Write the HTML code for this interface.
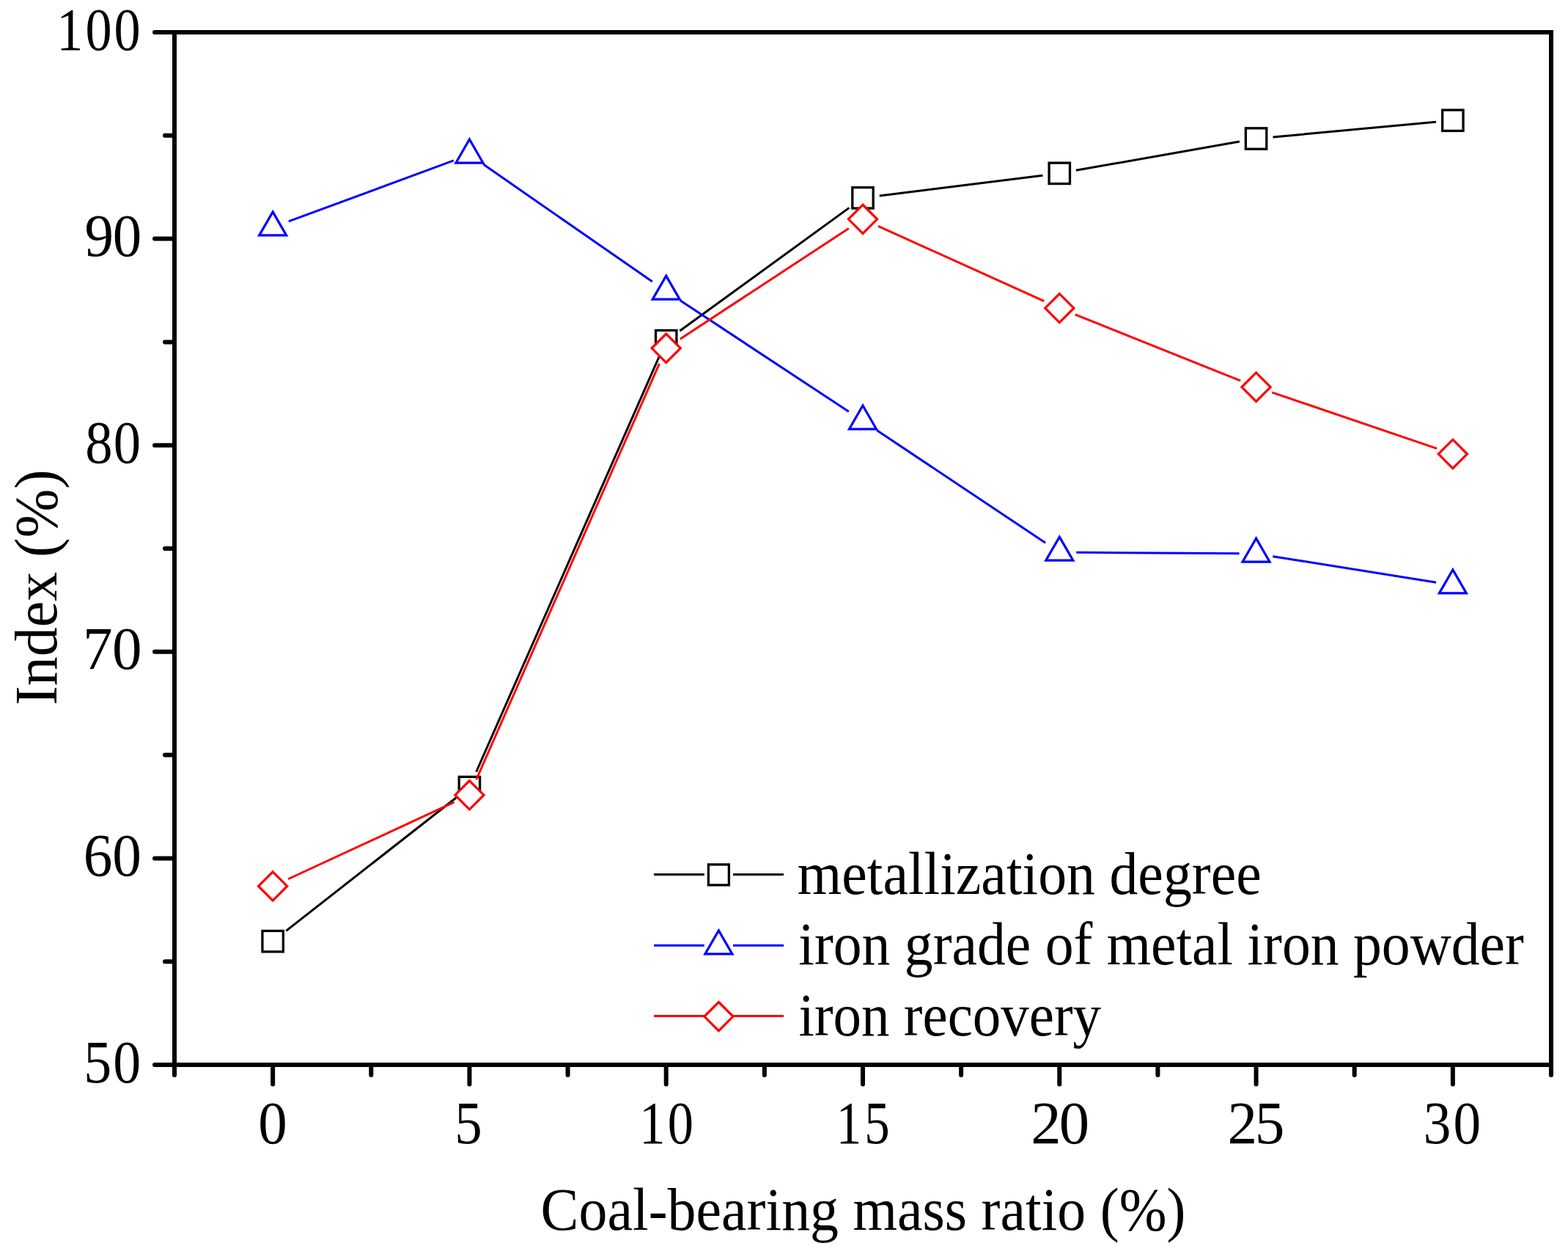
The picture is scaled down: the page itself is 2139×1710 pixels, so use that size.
<!DOCTYPE html>
<html><head><meta charset="utf-8"><title>Index vs coal-bearing mass ratio</title>
<style>html,body{margin:0;padding:0;background:#fff;}svg{display:block;}</style>
</head><body>
<svg width="2139" height="1710" viewBox="0 0 2139 1710">
<rect width="2139" height="1710" fill="#fff"/>
<path d="M390.25 1269.42L622.32 1087.71M649.70 1052.48L899.44 485.76M927.32 451.19L1158.39 283.36M1199.82 266.99L1422.46 239.18M1467.94 232.34L1690.92 193.02M1736.47 186.91L1958.95 166.36" stroke="#000" stroke-width="3.0" fill="none"/>
<rect x="357.94" y="1269.40" width="28.40" height="28.40" fill="#fff" stroke="#000" stroke-width="3.3"/>
<rect x="626.23" y="1059.33" width="28.40" height="28.40" fill="#fff" stroke="#000" stroke-width="3.3"/>
<rect x="894.51" y="450.51" width="28.40" height="28.40" fill="#fff" stroke="#000" stroke-width="3.3"/>
<rect x="1162.80" y="255.64" width="28.40" height="28.40" fill="#fff" stroke="#000" stroke-width="3.3"/>
<rect x="1431.09" y="222.13" width="28.40" height="28.40" fill="#fff" stroke="#000" stroke-width="3.3"/>
<rect x="1699.37" y="174.82" width="28.40" height="28.40" fill="#fff" stroke="#000" stroke-width="3.3"/>
<rect x="1967.66" y="150.04" width="28.40" height="28.40" fill="#fff" stroke="#000" stroke-width="3.3"/>
<path d="M393.72 301.88L618.85 218.94M659.33 224.10L889.82 384.02M927.92 409.78L1157.80 561.31M1196.13 586.74L1426.16 740.30M1468.29 753.24L1690.57 754.87M1736.28 758.66L1959.14 794.22" stroke="#00f" stroke-width="3.0" fill="none"/>
<path d="M372.14 288.87L390.64 320.91L353.64 320.91Z" fill="#fff" stroke="#00f" stroke-width="3.2" stroke-miterlimit="10"/>
<path d="M640.43 190.03L658.93 222.07L621.93 222.07Z" fill="#fff" stroke="#00f" stroke-width="3.2" stroke-miterlimit="10"/>
<path d="M908.71 376.16L927.21 408.21L890.21 408.21Z" fill="#fff" stroke="#00f" stroke-width="3.2" stroke-miterlimit="10"/>
<path d="M1177.00 553.01L1195.50 585.05L1158.50 585.05Z" fill="#fff" stroke="#00f" stroke-width="3.2" stroke-miterlimit="10"/>
<path d="M1445.29 732.11L1463.79 764.15L1426.79 764.15Z" fill="#fff" stroke="#00f" stroke-width="3.2" stroke-miterlimit="10"/>
<path d="M1713.57 734.08L1732.07 766.12L1695.07 766.12Z" fill="#fff" stroke="#00f" stroke-width="3.2" stroke-miterlimit="10"/>
<path d="M1981.86 776.88L2000.36 808.92L1963.36 808.92Z" fill="#fff" stroke="#00f" stroke-width="3.2" stroke-miterlimit="10"/>
<path d="M393.02 1198.75L619.56 1093.89M649.70 1063.18L899.45 495.90M927.95 462.23L1157.77 311.46M1197.96 308.33L1424.33 410.74M1466.63 428.78L1692.22 519.23M1735.35 535.19L1960.08 611.62" stroke="#f00" stroke-width="3.0" fill="none"/>
<path d="M372.14 1188.82L391.74 1208.42L372.14 1228.02L352.54 1208.42Z" fill="#fff" stroke="#f00" stroke-width="3.2" stroke-miterlimit="10"/>
<path d="M640.43 1064.63L660.03 1084.23L640.43 1103.83L620.83 1084.23Z" fill="#fff" stroke="#f00" stroke-width="3.2" stroke-miterlimit="10"/>
<path d="M908.71 455.25L928.31 474.85L908.71 494.45L889.11 474.85Z" fill="#fff" stroke="#f00" stroke-width="3.2" stroke-miterlimit="10"/>
<path d="M1177.00 279.25L1196.60 298.85L1177.00 318.45L1157.40 298.85Z" fill="#fff" stroke="#f00" stroke-width="3.2" stroke-miterlimit="10"/>
<path d="M1445.29 400.62L1464.89 420.22L1445.29 439.82L1425.69 420.22Z" fill="#fff" stroke="#f00" stroke-width="3.2" stroke-miterlimit="10"/>
<path d="M1713.57 508.19L1733.17 527.79L1713.57 547.39L1693.97 527.79Z" fill="#fff" stroke="#f00" stroke-width="3.2" stroke-miterlimit="10"/>
<path d="M1981.86 599.43L2001.46 619.03L1981.86 638.63L1962.26 619.03Z" fill="#fff" stroke="#f00" stroke-width="3.2" stroke-miterlimit="10"/>
<g stroke="#000" stroke-width="6.0" fill="none" stroke-linecap="butt">
<rect x="238.0" y="44.0" width="1878.0" height="1408.0"/>
<path d="M211.0 1452.00H238.0M211.0 1170.40H238.0M211.0 888.80H238.0M211.0 607.20H238.0M211.0 325.60H238.0M211.0 44.00H238.0M225.0 1311.20H238.0M225.0 1029.60H238.0M225.0 748.00H238.0M225.0 466.40H238.0M225.0 184.80H238.0M372.14 1452.0V1478.5M640.43 1452.0V1478.5M908.71 1452.0V1478.5M1177.00 1452.0V1478.5M1445.29 1452.0V1478.5M1713.57 1452.0V1478.5M1981.86 1452.0V1478.5M238.00 1452.0V1466.0M506.29 1452.0V1466.0M774.57 1452.0V1466.0M1042.86 1452.0V1466.0M1311.14 1452.0V1466.0M1579.43 1452.0V1466.0M1847.71 1452.0V1466.0M2116.00 1452.0V1466.0" stroke-linecap="round"/>
</g>
<path d="M892.0 1192.5H960.8M1000.0 1192.5H1069.0" stroke="#000" stroke-width="3.0"/>
<rect x="966.40" y="1178.90" width="28.00" height="28.00" fill="#fff" stroke="#000" stroke-width="3.3"/>
<path d="M892.0 1289.3H960.8M1000.0 1289.3H1069.0" stroke="#00f" stroke-width="3.0"/>
<path d="M980.40 1268.84L998.90 1300.88L961.90 1300.88Z" fill="#fff" stroke="#00f" stroke-width="3.2" stroke-miterlimit="10"/>
<path d="M892.0 1385.4H1069.0" stroke="#f00" stroke-width="3.0"/>
<path d="M980.40 1366.50L1000.00 1386.10L980.40 1405.70L960.80 1386.10Z" fill="#fff" stroke="#f00" stroke-width="3.2" stroke-miterlimit="10"/>
<g font-family="'Liberation Serif', 'Times New Roman', serif" font-size="81.5" fill="#000">
<text transform="translate(0,67.60) scale(0.8863,1)"><tspan x="87.20">1</tspan><tspan x="131.55">0</tspan><tspan x="175.44">0</tspan></text>
<text transform="translate(0,349.20) scale(0.9694,1)"><tspan x="119.15">9</tspan><tspan x="158.51">0</tspan></text>
<text transform="translate(0,630.80) scale(0.9163,1)"><tspan x="126.91">8</tspan><tspan x="168.87">0</tspan></text>
<text transform="translate(0,912.40) scale(0.9953,1)"><tspan x="113.66">7</tspan><tspan x="153.85">0</tspan></text>
<text transform="translate(0,1194.00) scale(0.9732,1)"><tspan x="116.99">6</tspan><tspan x="157.55">0</tspan></text>
<text transform="translate(0,1475.60) scale(0.9310,1)"><tspan x="122.73">5</tspan><tspan x="165.61">0</tspan></text>
<text transform="translate(0,1559.20) scale(0.9698,1)"><tspan x="363.35">0</tspan></text>
<text transform="translate(0,1559.20) scale(0.9199,1)"><tspan x="674.28">5</tspan></text>
<text transform="translate(0,1559.20) scale(0.8645,1)"><tspan x="1009.09">1</tspan><tspan x="1053.48">0</tspan></text>
<text transform="translate(0,1559.20) scale(0.8451,1)"><tspan x="1349.94">1</tspan><tspan x="1395.32">5</tspan></text>
<text transform="translate(0,1559.20) scale(1.0163,1)"><tspan x="1383.67">2</tspan><tspan x="1421.68">0</tspan></text>
<text transform="translate(0,1559.20) scale(0.9971,1)"><tspan x="1679.47">2</tspan><tspan x="1716.79">5</tspan></text>
<text transform="translate(0,1559.20) scale(0.9247,1)"><tspan x="2099.84">3</tspan><tspan x="2143.94">0</tspan></text>
<text transform="translate(737.61,1677.00) scale(0.9553,1)">Coal-bearing mass ratio (%)</text>
<text transform="translate(76.90,961.79) rotate(-90) scale(0.9802,1)">Index (%)</text>
<text transform="translate(1087.67,1219.00) scale(0.9551,1)">metallization degree</text>
<text transform="translate(1089.37,1315.20) scale(0.9528,1)">iron grade of metal iron powder</text>
<text transform="translate(1089.58,1412.00) scale(0.9448,1)">iron recovery</text>
</g>
</svg>
</body></html>
